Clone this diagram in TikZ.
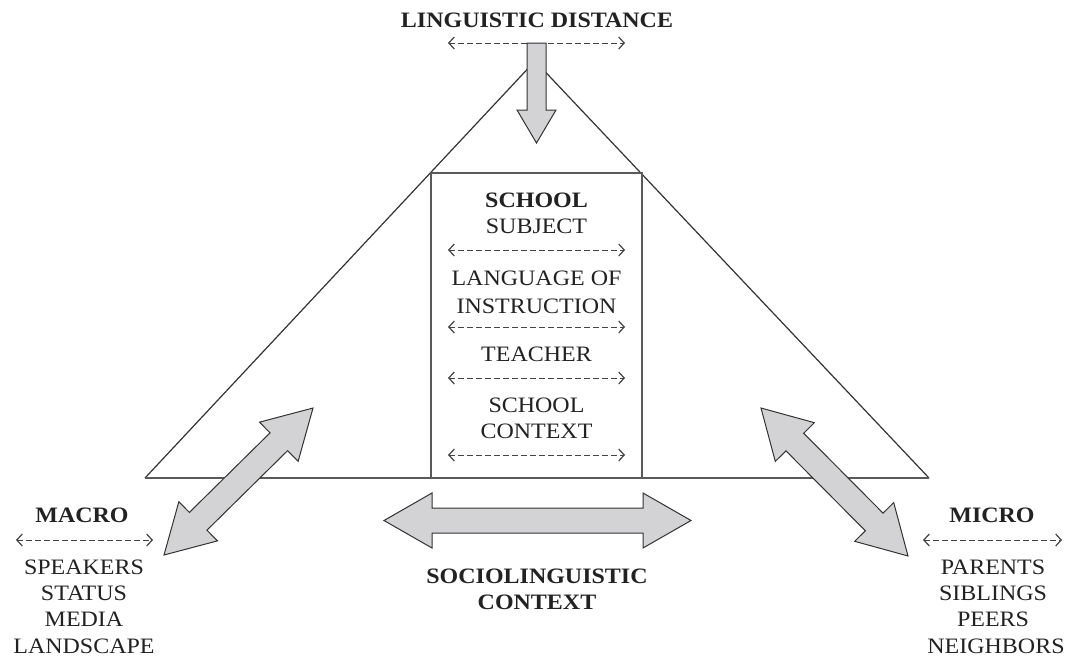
\documentclass[tikz,border=0pt]{standalone}
\usepackage{fontspec}
\setmainfont{Liberation Serif}[FakeStretch=1.09]
\usetikzlibrary{arrows.meta}
\definecolor{arrowfill}{HTML}{D3D3D5}
\definecolor{ink}{HTML}{222222}
\definecolor{edge}{HTML}{333333}
\definecolor{baseline}{HTML}{5A5A5A}
\definecolor{dashc}{HTML}{444444}
\begin{document}
\begin{tikzpicture}[x=1pt,y=-1pt,
  lbl/.style={anchor=base, inner sep=0pt, font=\fontsize{22}{26}\selectfont, text=ink},
  blbl/.style={anchor=base, inner sep=0pt, font=\fontsize{22}{26}\selectfont\bfseries, text=ink},
  dasharrow/.style={draw=dashc, line width=1pt, dash pattern=on 5.5pt off 3.5pt,
    {Straight Barb[length=5.5pt,width=12pt,line width=1.2pt]}-{Straight Barb[length=5.5pt,width=12pt,line width=1.2pt]}},
  bigarrow/.style={fill=arrowfill, draw=edge, line width=1pt, line join=miter},
  side/.style={draw=edge, line width=1.2pt},
  dbl/.pic={\path[bigarrow] (0,0) -- (48,27.5) -- (48,12.5) -- ({#1-48},12.5) -- ({#1-48},27.5)
      -- (#1,0) -- ({#1-48},-27.5) -- ({#1-48},-12.5) -- (48,-12.5) -- (48,-27.5) -- cycle;},
]
\useasboundingbox[fill=white] (0,0) rectangle (1068,659);

% triangle
\coordinate (tl) at (145,478);
\coordinate (tr) at (929,478);
\coordinate (apex) at (535,61);
\draw[side] (tl) -- (apex) -- (tr);
\draw[draw=baseline, line width=1.6pt] (tl) -- (tr);

% school box
\draw[draw=baseline, line width=1.4pt, fill=white] (431,173) rectangle (642,478);

% title
\node[blbl] (ld) at (537,27) {LINGUISTIC DISTANCE};
\coordinate (ldL) at (448,43); \coordinate (ldR) at (625,43);
\draw[dasharrow] (ldL) -- (ldR);

% down arrow
\path[bigarrow] (527,43) -- (546,43) -- (546,110) -- (556,110) -- (536.5,143)
  -- (517,110) -- (527,110) -- cycle;

% box text
\node[blbl] (school) at (536.5,207) {SCHOOL};
\node[lbl] (subject) at (536.5,233) {SUBJECT};
\coordinate (a1L) at (448,250); \coordinate (a1R) at (625,250);
\draw[dasharrow] (a1L) -- (a1R);
\node[lbl] (lang) at (536.5,285) {LANGUAGE OF};
\node[lbl] (instr) at (536.5,313) {INSTRUCTION};
\coordinate (a2L) at (448,327); \coordinate (a2R) at (625,327);
\draw[dasharrow] (a2L) -- (a2R);
\node[lbl] (teacher) at (536.5,361) {TEACHER};
\coordinate (a3L) at (448,378); \coordinate (a3R) at (625,378);
\draw[dasharrow] (a3L) -- (a3R);
\node[lbl] (school2) at (536.5,412) {SCHOOL};
\node[lbl] (context) at (536.5,438) {CONTEXT};
\coordinate (a4L) at (448,455); \coordinate (a4R) at (625,455);
\draw[dasharrow] (a4L) -- (a4R);

% big double arrows
\path (164,555) pic[rotate=44.61] {dbl=209.3};
\path (761,408) pic[rotate=-45.19] {dbl=208.6};
\path (384,520.5) pic {dbl=307};

% bottom label
\node[blbl] (socio) at (537,583) {SOCIOLINGUISTIC};
\node[blbl] (socio2) at (537,609) {CONTEXT};

% macro
\node[blbl] (macro) at (82,522) {MACRO};
\coordinate (mL) at (16,540); \coordinate (mR) at (153,540);
\draw[dasharrow] (mL) -- (mR);
\node[lbl] (speakers) at (84,574) {SPEAKERS};
\node[lbl] (status) at (84,600) {STATUS};
\node[lbl] (media) at (84,626) {MEDIA};
\node[lbl] (landscape) at (84,653) {LANDSCAPE};

% micro
\node[blbl] (micro) at (992,522) {MICRO};
\coordinate (nL) at (923,540); \coordinate (nR) at (1062,540);
\draw[dasharrow] (nL) -- (nR);
\node[lbl] (parents) at (993,574) {PARENTS};
\node[lbl] (siblings) at (993,600) {SIBLINGS};
\node[lbl] (peers) at (993,626) {PEERS};
\node[lbl] (neighbors) at (996,653) {NEIGHBORS};
\end{tikzpicture}
\end{document}
